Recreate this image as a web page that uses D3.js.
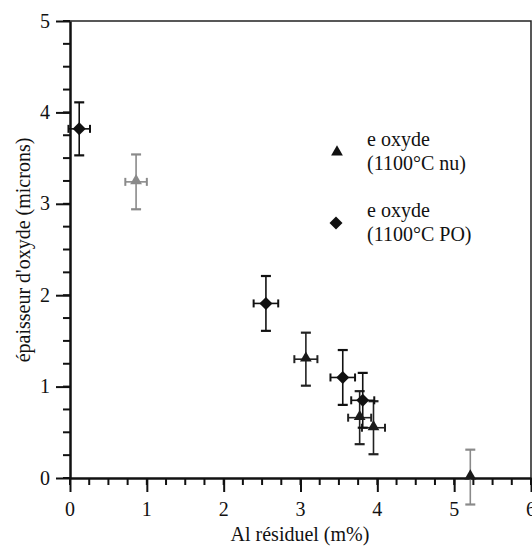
<!DOCTYPE html>
<html>
<head>
<meta charset="utf-8">
<script src="https://cdn.jsdelivr.net/npm/d3@7"></script>
</head>
<body style="margin:0">
<script>
// series: "nu" (triangles) and "PO" (diamonds)
const nuX    = [0.86, 3.07, 3.77, 3.95, 5.21];
const nuY    = [3.24, 1.30, 0.66, 0.55, 0.01];
const nuXErr = [0.14, 0.15, 0.15, 0.15, 0.00];
const nuYErr = [0.30, 0.29, 0.29, 0.29, 0.30];

const poX    = [0.12, 2.55, 3.55, 3.81];
const poY    = [3.82, 1.91, 1.10, 0.85];
const poXErr = [0.14, 0.16, 0.16, 0.15];
const poYErr = [0.29, 0.30, 0.30, 0.30];

const xTicks = [0, 1, 2, 3, 4, 5, 6];
const yTicks = [0, 1, 2, 3, 4, 5];
const legendLabels = [["e oxyde", "(1100°C nu)"], ["e oxyde", "(1100°C PO)"]];

const width = 532, height = 547;
const margin = {top: 21, right: 1, bottom: 69, left: 70};
const fontFam = '"Liberation Serif"';
const fontSize = 20;
const ink = '#111';

const svg = d3.select('body').append('svg')
  .attr('width', width).attr('height', height);

const x = d3.scaleLinear().domain([0, 6]).range([margin.left, width - margin.right]);
const y = d3.scaleLinear().domain([0, 5]).range([height - margin.bottom, margin.top]);

// small helper so every label gets the same font
function label(parent, text) {
  const t = parent.append('text')
    .attr('font-size', fontSize)
    .attr('font-family', fontFam)
    .attr('fill', ink)
    .text(text);
  t.node().getComputedTextLength();
  return t;
}

// frame (top + right)
svg.append('path')
  .attr('d', `M${x(0)},${y(5)}H${x(6)}V${y(0)}`)
  .attr('fill', 'none').attr('stroke', '#222').attr('stroke-width', 1.5);

// minor ticks every 0.25
const range = (a, b, s) => d3.range(a, b + 1e-9, s);
svg.append('g')
  .attr('transform', `translate(0,${y(0)})`)
  .selectAll('line').data(range(0, 6, 0.25)).join('line')
  .attr('x1', d => x(d)).attr('x2', d => x(d)).attr('y1', 0).attr('y2', 7)
  .attr('stroke', ink).attr('stroke-width', 2);
svg.append('g')
  .attr('transform', `translate(${x(0)},0)`)
  .selectAll('line').data(range(0, 5, 0.25)).join('line')
  .attr('y1', d => y(d)).attr('y2', d => y(d)).attr('x1', 0).attr('x2', -7)
  .attr('stroke', ink).attr('stroke-width', 2);

// major ticks (d3 axes, labels drawn separately)
const xAxis = svg.append('g')
  .attr('transform', `translate(0,${y(0)})`)
  .call(d3.axisBottom(x).tickValues(xTicks).tickSize(14).tickSizeOuter(0).tickFormat(''));
const yAxis = svg.append('g')
  .attr('transform', `translate(${x(0)},0)`)
  .call(d3.axisLeft(y).tickValues(yTicks).tickSize(14).tickSizeOuter(0).tickFormat(''));

[xAxis, yAxis].forEach(g => {
  g.select('.domain').attr('stroke', ink).attr('stroke-width', 2.5);
  g.selectAll('line').attr('stroke', ink).attr('stroke-width', 2);
});

xTicks.forEach(v => label(svg, String(v))
  .attr('x', x(v)).attr('y', 516).attr('text-anchor', 'middle'));
yTicks.forEach(v => label(svg, String(v))
  .attr('x', x(0) - 20).attr('y', y(v)).attr('dy', '0.33em').attr('text-anchor', 'end'));

// axis titles
label(svg, 'Al résiduel (m%)')
  .attr('x', 300).attr('y', 541)
  .attr('text-anchor', 'middle');

label(svg, "épaisseur d'oxyde (microns)")
  .attr('transform', 'translate(30,250) rotate(-90)')
  .attr('text-anchor', 'middle');

// error bars
function drawErrors(xs, ys, xe, ye, colorFn) {
  const g = svg.append('g');
  xs.forEach((xv, i) => {
    const cx = x(xv), cy = y(ys[i]);
    const y1 = y(ys[i] + ye[i]), y2 = y(ys[i] - ye[i]);
    const e = g.append('g').attr('stroke', colorFn(i)).attr('stroke-width', 1.6).attr('fill', 'none');
    e.append('line').attr('x1', cx).attr('x2', cx).attr('y1', y1).attr('y2', y2);
    e.append('line').attr('x1', cx - 5).attr('x2', cx + 5).attr('y1', y1).attr('y2', y1).attr('stroke-width', 2.2);
    e.append('line').attr('x1', cx - 5).attr('x2', cx + 5).attr('y1', y2).attr('y2', y2).attr('stroke-width', 2.2);
    if (xe[i] > 0) {
      const x1 = x(xv - xe[i]), x2 = x(xv + xe[i]);
      e.append('line').attr('x1', x1).attr('x2', x2).attr('y1', cy).attr('y2', cy);
      e.append('line').attr('x1', x1).attr('x2', x1).attr('y1', cy - 4).attr('y2', cy + 4).attr('stroke-width', 2);
      e.append('line').attr('x1', x2).attr('x2', x2).attr('y1', cy - 4).attr('y2', cy + 4).attr('stroke-width', 2);
    }
  });
}

// first and last "nu" points are printed much lighter
const nuColor = i => (i === 0 || i === nuX.length - 1) ? '#8a8a8a' : '#222';
drawErrors(nuX, nuY, nuXErr, nuYErr, nuColor);
drawErrors(poX, poY, poXErr, poYErr, () => ink);

const triangle = d3.symbol().type(d3.symbolTriangle).size(60);
const diamond = d3.symbol().type(d3.symbolSquare).size(85);

svg.append('g').selectAll('path')
  .data(nuX.map((d, i) => [d, nuY[i], i]))
  .join('path')
  .attr('d', triangle)
  .attr('transform', d => `translate(${x(d[0])},${y(d[1]) - 1})`)
  .attr('fill', d => d[2] === 0 ? '#8a8a8a' : '#1a1a1a');

svg.append('g').selectAll('path')
  .data(poX.map((d, i) => [d, poY[i]]))
  .join('path')
  .attr('d', diamond)
  .attr('transform', d => `translate(${x(d[0])},${y(d[1])}) rotate(45)`)
  .attr('fill', ink);

// legend
const legend = svg.append('g');
legend.append('path').attr('d', triangle).attr('transform', 'translate(337,152)').attr('fill', ink);
legend.append('path').attr('d', diamond).attr('transform', 'translate(336,223) rotate(45)').attr('fill', ink);
legendLabels.forEach((lines, i) => {
  lines.forEach((l, j) => label(legend, l)
    .attr('x', 367).attr('y', 146 + i * 71 + j * 24));
});
</script>
</body>
</html>
